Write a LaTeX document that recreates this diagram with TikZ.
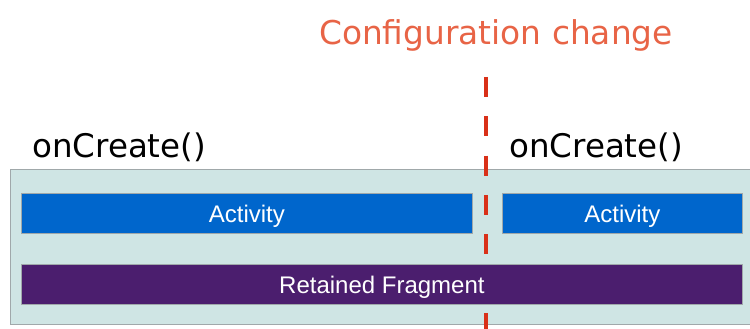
\documentclass[tikz,border=0pt]{standalone}
\usepackage{fontspec}
\setmainfont{DejaVu Sans}
\newfontfamily\arialfont{Liberation Sans}
\definecolor{panelfill}{RGB}{207,229,228}
\definecolor{panelline}{RGB}{160,168,170}
\definecolor{actblue}{RGB}{0,102,204}
\definecolor{fragpurple}{RGB}{75,30,110}
\definecolor{cutred}{RGB}{217,48,24}
\definecolor{titleorange}{RGB}{232,100,70}
\tikzset{
  bar/.style={draw=panelline, line width=0.8pt, inner sep=0pt, text=white,
    text height=17.5pt, text depth=0pt,
    font=\arialfont\fontsize{24}{24}\selectfont},
  callname/.style={anchor=base west, inner sep=0pt, text=black,
    font=\fontsize{32.5}{32.5}\selectfont},
}
\begin{document}
\begin{tikzpicture}[x=1pt, y=-1pt]
\useasboundingbox[fill=white] (0,0) rectangle (750,329);
% lifetime panel
\node[draw=panelline, fill=panelfill, line width=0.8pt, inner sep=0pt,
  minimum width=745pt, minimum height=155pt, anchor=north west] (panel) at (10,169) {};
% configuration-change marker (behind the fragment bar)
\coordinate (cuttop) at (485.5,77);
\coordinate (cutbot) at (485.5,335);
\draw[cutred, line width=4pt, dash pattern=on 20pt off 19.3pt] (cuttop) -- (cutbot);
\node[anchor=base, inner sep=0pt, text=titleorange,
  font=\fontsize{32.8}{32.8}\selectfont] (title) at (496,45) {Configuration change};
% activity instances
\node[bar, fill=actblue, minimum width=451pt, minimum height=40pt, anchor=north west]
  (act1) at (21,193) {Activity};
\node[bar, fill=actblue, minimum width=240pt, minimum height=40pt, anchor=north west]
  (act2) at (502,193) {Activity};
% fragment spanning both activities
\node[bar, fill=fragpurple, minimum width=721pt, minimum height=40pt, anchor=north west]
  (frag) at (21,264) {Retained Fragment};
% lifecycle callbacks
\node[callname] (create1) at (32,157) {onCreate()};
\node[callname] (create2) at (509,157) {onCreate()};
\end{tikzpicture}
\end{document}
